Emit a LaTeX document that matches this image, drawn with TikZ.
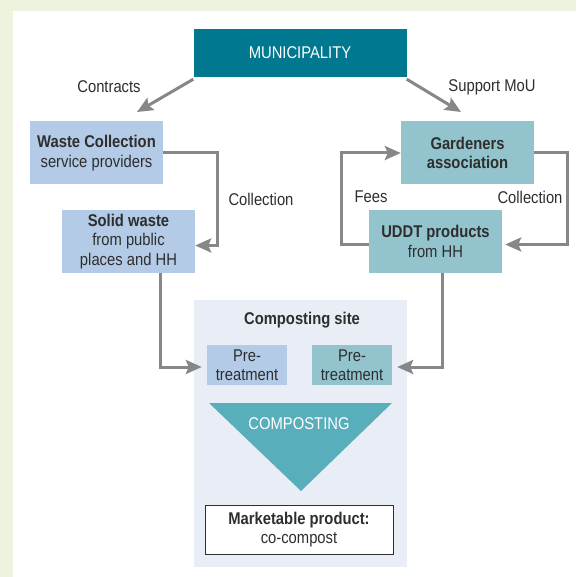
\documentclass[tikz,border=0pt]{standalone}
\usepackage{fontspec}
\setmainfont{Liberation Sans}[FakeStretch=0.87]
\usetikzlibrary{positioning}
\usetikzlibrary{calc}
\usetikzlibrary{arrows.meta}
\definecolor{pagegreen}{HTML}{EEF3DD}
\definecolor{munteal}{HTML}{00788F}
\definecolor{wasteblue}{HTML}{B3CBE6}
\definecolor{uddtteal}{HTML}{93C4CE}
\definecolor{sitegray}{HTML}{E9EEF6}
\definecolor{compteal}{HTML}{58AEBB}
\definecolor{linegray}{HTML}{878787}
\definecolor{txtgray}{HTML}{2E2E2E}
\tikzset{>={Stealth[length=16pt,width=14pt,inset=3pt]}}
\tikzset{munbox/.style={rectangle, fill=munteal, text=white, minimum width=213pt, minimum height=48pt, inner sep=0pt}}
\tikzset{wastebox/.style={rectangle, fill=wasteblue, minimum width=133pt, minimum height=63pt, inner sep=0pt, align=center}}
\tikzset{uddtbox/.style={rectangle, fill=uddtteal, minimum width=133pt, minimum height=63pt, inner sep=0pt, align=center}}
\tikzset{pretreat/.style={rectangle, minimum width=80pt, minimum height=40pt, inner sep=0pt, align=center}}
\tikzset{product/.style={rectangle, draw=txtgray, line width=0.8pt, fill=white, minimum width=188pt, minimum height=49pt, inner sep=0pt, align=center}}
\tikzset{flow/.style={draw=linegray, line width=3pt, ->}}
\begin{document}
\begin{tikzpicture}[x=1pt, y=-1pt,
        every node/.style={font=\fontsize{17}{19.5}\selectfont, text=txtgray}
    ]

    \useasboundingbox (0,0) rectangle (576,577);
    \fill[pagegreen] (0,0) rectangle (576,577);
    \fill[white] (13,11) rectangle (576,577);

    \node [munbox] (muni) at (300,53) {MUNICIPALITY};
    \node [wastebox] (wcsp) at (96.5,153) {\textbf{Waste Collection}\\service providers};
    \node [wastebox] (solid) at (128.5,241.5) {\textbf{Solid waste}\\from public\\places and HH};
    \node [uddtbox] (garden) at (467.5,153) {\textbf{Gardeners}\\\textbf{association}};
    \node [uddtbox] (uddt) at (435.5,241.5) {\textbf{UDDT products}\\from HH};

    \fill[sitegray] (194,300) rectangle (407,567);
    \node (site) at (302,320) {\textbf{Composting site}};
    \node [pretreat, fill=wasteblue] (preL) at (247,365) {Pre-\\treatment};
    \node [pretreat, fill=uddtteal] (preR) at (352,365) {Pre-\\treatment};
    \fill[compteal] (209,403) -- (392,403) -- (301,491) -- cycle;
    \node [text=white] (comp) at (299,424) {COMPOSTING};
    \node [product] (market) at (299,529.5) {\textbf{Marketable product:}\\co-compost};

    \coordinate (contractsTip) at (137,112);
    \coordinate (mouTip) at (461,112);
    \draw [flow] ([yshift=-2pt]muni.south west) -- (contractsTip);
    \draw [flow] ([yshift=-2pt]muni.south east) -- (mouTip);
    \node (contracts) at (109,87) {Contracts};
    \node (mou) at (492,87) {Support MoU};

    \draw [flow] (wcsp.east) -- ++(54,0) |- ([yshift=-4pt]solid.east);
    \node (coll1) at (261,199) {Collection};

    \draw [flow, shorten >=3pt] (garden.east) -- ++(33,0) |- ([yshift=-3pt]uddt.east);
    \draw [flow] ([yshift=-3pt]uddt.west) -- ++(-27,0) |- (garden.west);
    \node (fees) at (371,197) {Fees};
    \node (coll2) at (530,197) {Collection};

    \draw [flow, shorten >=5pt] ([xshift=32pt]solid.south) |- ([yshift=-2pt]preL.west);
    \draw [flow, shorten >=5pt] ([xshift=6.5pt]uddt.south) |- ([yshift=-2pt]preR.east);

\end{tikzpicture}
\end{document}
